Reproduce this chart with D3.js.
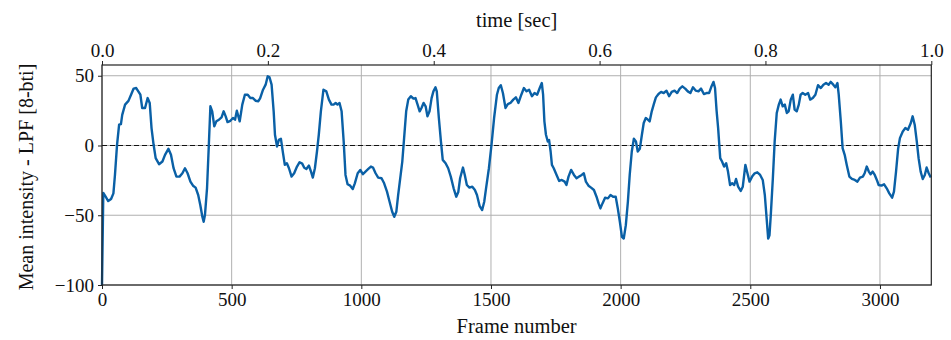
<!DOCTYPE html>
<html>
<head>
<meta charset="utf-8">
<script src="https://cdn.jsdelivr.net/npm/d3@7"></script>
<style>
  body { margin: 0; background: #fff; }
  svg text { font-family: "Liberation Serif", "DejaVu Serif", serif; fill: #111; }
</style>
</head>
<body>
<svg id="chart"></svg>
<script>
// Frame numbers and mean intensity values
const frames = [
  0, 5, 14, 24, 35, 44, 50, 58, 66, 73, 78, 89, 102, 112, 122, 132, 140, 148, 155, 166,
  176, 184, 191, 199, 207, 220, 233, 243, 256, 266, 276, 287, 299, 310, 320, 330, 341, 351, 361, 371,
  379, 387, 392, 397, 405, 412, 418, 425, 433, 441, 451, 461, 469, 477, 484, 495, 505, 513, 520, 531,
  541, 551, 562, 572, 582, 592, 603, 610, 621, 631, 639, 646, 654, 662, 667, 675, 682, 690, 698, 705,
  713, 721, 731, 741, 752, 762, 772, 780, 788, 798, 806, 813, 821, 829, 836, 844, 854, 865, 875, 885,
  893, 901, 908, 916, 924, 932, 939, 947, 957, 967, 975, 986, 996, 1006, 1016, 1027, 1037, 1045, 1055, 1065,
  1078, 1088, 1099, 1109, 1119, 1127, 1135, 1142, 1150, 1158, 1165, 1173, 1181, 1191, 1201, 1209, 1217, 1225, 1232, 1240,
  1248, 1255, 1263, 1271, 1278, 1286, 1291, 1299, 1307, 1314, 1325, 1335, 1345, 1356, 1366, 1374, 1381, 1392, 1399, 1407,
  1417, 1428, 1438, 1446, 1456, 1466, 1474, 1481, 1492, 1502, 1512, 1523, 1530, 1538, 1546, 1556, 1565, 1575, 1586, 1596,
  1606, 1617, 1627, 1637, 1647, 1658, 1668, 1678, 1688, 1696, 1701, 1706, 1712, 1719, 1724, 1730, 1735, 1742, 1753, 1763,
  1773, 1784, 1791, 1799, 1809, 1820, 1830, 1840, 1850, 1858, 1866, 1876, 1886, 1897, 1907, 1915, 1922, 1930, 1940, 1951,
  1961, 1971, 1981, 1989, 1997, 2005, 2012, 2020, 2028, 2035, 2043, 2051, 2059, 2066, 2074, 2082, 2089, 2097, 2105, 2112,
  2120, 2128, 2136, 2146, 2156, 2166, 2177, 2187, 2197, 2208, 2218, 2228, 2238, 2249, 2259, 2269, 2279, 2290, 2300, 2310,
  2321, 2331, 2341, 2349, 2358, 2364, 2370, 2376, 2384, 2391, 2399, 2407, 2414, 2422, 2430, 2438, 2445, 2453, 2463, 2471,
  2481, 2489, 2497, 2507, 2517, 2527, 2538, 2548, 2556, 2563, 2569, 2574, 2579, 2587, 2594, 2602, 2610, 2617, 2625, 2633,
  2641, 2648, 2656, 2664, 2671, 2679, 2687, 2694, 2702, 2712, 2723, 2731, 2741, 2751, 2761, 2772, 2782, 2792, 2802, 2810,
  2820, 2828, 2836, 2841, 2849, 2856, 2864, 2872, 2882, 2892, 2903, 2913, 2923, 2934, 2941, 2949, 2957, 2964, 2972, 2980,
  2988, 2995, 3006, 3016, 3026, 3036, 3047, 3054, 3062, 3070, 3077, 3088, 3098, 3108, 3119, 3126, 3134, 3142, 3149, 3157,
  3165, 3173, 3180, 3188, 3196
];

const intensity = [
  -100, -34, -36.7, -39.8, -38.4, -34.3, -21, 0.5, 14.9, 15.3, 22, 29.3, 32, 36.4, 40.8, 41.2, 38.8, 36.4, 26.9, 26.9,
  34, 30.5, 12.5, 0.5, -9.1, -13.4, -11.5, -6.7, -2.4, -6.7, -16.3, -22.3, -22.3, -19.9, -16.3, -19.9, -25.9, -28.8, -30.2, -35.5,
  -42.7, -51.1, -54.7, -49.9, -30.7, 0.5, 28.1, 24.5, 13.7, 17.3, 18.5, 20.1, 24.5, 20.9, 16.8, 17.7, 19.7, 18.5, 24.9, 17.3,
  29.3, 36.4, 36.4, 34, 34, 32.1, 31.7, 34, 40, 43.6, 49.6, 48.9, 43.6, 24.5, 7.7, -0.7, 4, 4.8, -5.5, -13.9,
  -12.7, -16.3, -22.3, -19.9, -15.1, -12, -13, -16, -16.8, -14.4, -18.7, -23, -16.3, -4.3, 7.7, 24.5, 40, 38.8, 32.9, 29.3,
  29.3, 30.5, 29.3, 30.5, 24.5, 2.9, -21.1, -27.8, -28.8, -31.2, -27.1, -19.9, -17.5, -20.6, -18.7, -16.8, -15.1, -15.8, -19.9, -23,
  -23.5, -27.1, -33.1, -40.3, -47.5, -51.1, -47.5, -35.5, -23.5, -11.5, 5.3, 24.5, 32.9, 35.3, 33.6, 34, 29.3, 24.5, 26.9, 30.5,
  28.1, 20.9, 24.5, 34, 38.8, 41.7, 38.8, 19.7, 2.9, -10.3, -12.7, -16.3, -22.3, -30.7, -36.7, -33.3, -23.5, -15.8, -21.1, -28.3,
  -30.2, -29.5, -31.9, -35.5, -43.2, -46.3, -40.3, -30.7, -16.3, 0.5, 19.7, 36.4, 41.2, 43.2, 37.6, 26.9, 29.7, 30.5, 32.9, 34.5,
  30.5, 36.4, 41.2, 38.8, 40, 35.3, 37.6, 36.4, 41.2, 44.8, 36.4, 17.3, 7.7, 2.9, 4, -4.3, -13.9, -16.3, -21.1, -25.4,
  -24.7, -25.9, -28.3, -22.3, -17.5, -21.1, -23.5, -22.3, -21.1, -19.9, -25.9, -28.8, -30.2, -31.9, -36.7, -41.5, -45.1, -41.5, -37.4, -37.9,
  -35.5, -36.7, -36.7, -45.1, -54.7, -65.5, -66.7, -57.1, -40.3, -21.1, -4.3, 4.8, 2.9, -4.3, -2.4, 7.7, 16.1, 19.7, 18.5, 17.3,
  24.5, 29.7, 34.5, 36.9, 38.4, 37.6, 39.3, 35.3, 38.4, 39.3, 37.6, 40.8, 42.4, 40.8, 38.8, 37.6, 41.7, 39.3, 38.8, 40.8,
  36.9, 37.6, 37.6, 41.7, 45.6, 41.2, 25, 12.5, -9.1, -11.5, -15.1, -12.7, -18.7, -28.3, -27.1, -28.3, -24, -29.5, -32.6, -29.5,
  -13.9, -19.9, -25.9, -22.3, -19.9, -19.2, -21.1, -24.7, -35.5, -52.3, -66.7, -64.3, -49.9, -23.5, 2.9, 23.3, 29.3, 32.9, 28.1, 29.3,
  23.3, 24.5, 32.9, 36.4, 25.7, 24.5, 29.3, 36.4, 37.6, 36.4, 37.6, 32.9, 34, 36.4, 43.2, 41.2, 43.6, 44.8, 43.6, 45.6,
  43.6, 41.7, 44.8, 36.4, 17.3, -1.9, -6.7, -13.9, -22.3, -24, -24.7, -25.9, -23, -22.3, -19.9, -15.1, -18.7, -20.6, -18.7, -21.1,
  -24.7, -28.3, -28.8, -27.8, -30.7, -34.3, -37.4, -33.1, -18.7, -2.4, 5.3, 10.1, 12.5, 11.3, 16.1, 20.9, 14.9, 2.9, -9.1, -18.7,
  -24, -21.1, -15.8, -19.9, -23
];

const frameTicks = [0, 500, 1000, 1500, 2000, 2500, 3000];
const timeTicks = [0, 0.2, 0.4, 0.6, 0.8, 1.0];
const valueTicks = [-100, -50, 0, 50];

const W = 951, H = 340;
const margin = { top: 65, right: 20, bottom: 55, left: 102 };
const width = 931.3 - margin.left;
const height = 285 - margin.top;

const svg = d3.select("#chart").attr("width", W).attr("height", H);
const g = svg.append("g").attr("transform", `translate(${margin.left},${margin.top})`);

const x = d3.scaleLinear().domain([0, 3198]).range([0, width]);
const xTime = d3.scaleLinear().domain([0, 1]).range([0, width]);
const y = d3.scaleLinear().domain([-100, 57.7]).range([height, 0]);

// grid lines
g.append("g")
  .selectAll("line.vg")
  .data(frameTicks)
  .join("line")
  .attr("x1", (d) => x(d)).attr("x2", (d) => x(d))
  .attr("y1", 0).attr("y2", height)
  .attr("stroke", "#b0b0b0").attr("stroke-width", 1);

g.append("g")
  .selectAll("line.hg")
  .data(valueTicks)
  .join("line")
  .attr("x1", 0).attr("x2", width)
  .attr("y1", (d) => y(d)).attr("y2", (d) => y(d))
  .attr("stroke", "#b0b0b0").attr("stroke-width", 1);

// zero reference line
g.append("line")
  .attr("x1", 0).attr("x2", width)
  .attr("y1", y(0)).attr("y2", y(0))
  .attr("stroke", "#111").attr("stroke-width", 1.2)
  .attr("stroke-dasharray", "5,3");

// the signal
const series = frames.map((f, i) => [f, intensity[i]]);
g.append("path")
  .datum(series)
  .attr("fill", "none")
  .attr("stroke", "#0a60a6")
  .attr("stroke-width", 2.4)
  .attr("stroke-linejoin", "round")
  .attr("d", d3.line().x((d) => x(d[0])).y((d) => y(d[1])));

// axes
const styleAxis = (sel) => {
  sel.select(".domain").remove();
  sel.selectAll(".tick line").attr("stroke", "#222");
  sel.selectAll(".tick text").style("font-size", "19px").attr("fill", "#111");
};

g.append("g")
  .attr("transform", `translate(0,${height})`)
  .call(d3.axisBottom(x).tickValues(frameTicks).tickFormat(d3.format("d")).tickSize(4).tickPadding(4))
  .call(styleAxis);

g.append("g")
  .call(d3.axisTop(xTime).tickValues(timeTicks).tickFormat(d3.format(".1f")).tickSize(4).tickPadding(4))
  .call(styleAxis);

g.append("g")
  .call(d3.axisLeft(y).tickValues(valueTicks).tickSize(4).tickPadding(4))
  .call(styleAxis);

// frame
g.append("rect")
  .attr("width", width).attr("height", height)
  .attr("fill", "none").attr("stroke", "#222").attr("stroke-width", 1.2);

// labels
svg.append("text")
  .attr("x", margin.left + width / 2).attr("y", 333)
  .attr("text-anchor", "middle").style("font-size", "20.5px")
  .text("Frame number");

svg.append("text")
  .attr("x", margin.left + width / 2).attr("y", 27)
  .attr("text-anchor", "middle").style("font-size", "20.5px")
  .text("time [sec]");

svg.append("text")
  .attr("transform", `translate(33,${margin.top + height / 2 + 2}) rotate(-90)`)
  .attr("text-anchor", "middle").style("font-size", "20px")
  .text("Mean intensity - LPF [8-bti]");
</script>
</body>
</html>
